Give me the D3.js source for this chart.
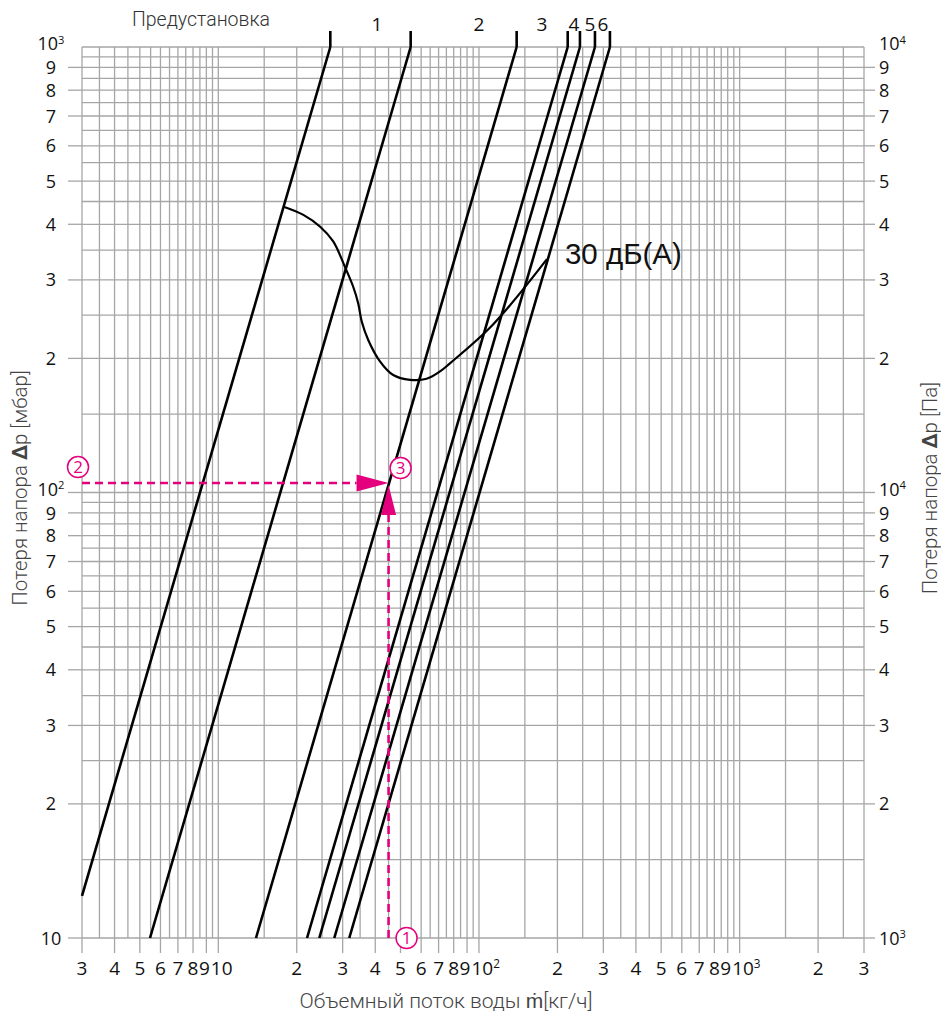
<!DOCTYPE html>
<html><head><meta charset="utf-8">
<script src="https://cdn.jsdelivr.net/npm/d3@7"></script>
<style>body{margin:0;background:#fff} svg{display:block}</style>
</head><body>
<svg id="c" width="941" height="1014"></svg>
<script>
// ---- data ----
const presetFlowAt1000mbar = [26.9, 54.7, 139.5, 219, 244, 278.6, 318]; // kg/h at Δp = 1000 mbar
const presetNames = ["1", "2", "3", "4", "5", "6"];
const presetLabelFlow = [40.6, 100, 174.6, 231.6, 266.7, 299];
const noiseFlow = [17.8, 21.2, 24.6, 27.6, 30.6, 32.9, 34.4, 35.5, 37.6, 41.7, 46.9, 54.4, 63.0, 70.9, 77.4, 113, 182.3];
const noiseDp   = [438, 420, 395, 366, 321, 290, 266, 242, 220, 197, 183.5, 179, 180, 187, 195, 238, 334];
const noiseLabel = "30 дБ(А)";
const exampleFlow = 45;   // kg/h
const exampleDp = 105;    // mbar
const xTickValues = [3,4,5,6,7,8,9,10,20,30,40,50,60,70,80,90,100,200,300,400,500,600,700,800,900,1000,2000,3000];
const xTickLabels = ["3","4","5","6","7","8","9","10","2","3","4","5","6","7","8","9","10^2","2","3","4","5","6","7","8","9","10^3","2","3"];
const yTickValues = [10,20,30,40,50,60,70,80,90,100,200,300,400,500,600,700,800,900,1000];
const yLeftLabels = ["10","2","3","4","5","6","7","8","9","10^2","2","3","4","5","6","7","8","9","10^3"];
const yRightLabels = ["10^3","2","3","4","5","6","7","8","9","10^4","2","3","4","5","6","7","8","9","10^4"];
const titleTop = "Предустановка";
const titleLeft = ["Потеря напора ", "Δ", "p [мбар]"];
const titleRight = ["Потеря напора ", "Δ", "p [Па]"];
const titleBottom = "Объемный поток воды ṁ[кг/ч]";

// ---- layout ----
const L = 82, R = 864, T = 47, B = 938;
const svg = d3.select("#c");
const x = d3.scaleLog().domain([3, 3000]).range([L, R]);
const y = d3.scaleLog().domain([10, 1000]).range([B, T]);
const PINK = "#e4007c";
const GRID = "#a6a6a6";
const tickFont = "'Open Sans', 'DejaVu Sans', sans-serif";
const lightFont = "Roboto, 'Liberation Sans', sans-serif";

// grid values (half-steps within each decade)
const xGrid = [], yGrid = [];
[1, 10, 100, 1000].forEach(d => { for (let k = 2; k <= 20; k++) { const v = k * 0.5 * d; if (v >= 2.999 && v <= 3000.01 && !xGrid.some(g => Math.abs(g - v) < 1e-6)) xGrid.push(v); } });
[10, 100].forEach(d => { for (let k = 2; k <= 20; k++) { const v = k * 0.5 * d; if (v >= 9.999 && v <= 1000.01 && !yGrid.some(g => Math.abs(g - v) < 1e-6)) yGrid.push(v); } });

const g = svg.append("g");
g.selectAll("line.vx").data(xGrid).join("line")
  .attr("x1", d => x(d)).attr("x2", d => x(d)).attr("y1", T).attr("y2", B)
  .attr("stroke", GRID).attr("stroke-width", 1.3);
g.selectAll("line.hy").data(yGrid).join("line")
  .attr("y1", d => y(d)).attr("y2", d => y(d)).attr("x1", L).attr("x2", R)
  .attr("stroke", GRID).attr("stroke-width", 1.3);
// outer tick extensions
g.selectAll("line.tb").data(xTickValues).join("line")
  .attr("x1", d => x(d)).attr("x2", d => x(d)).attr("y1", B).attr("y2", B + 15)
  .attr("stroke", GRID).attr("stroke-width", 1.3);
g.selectAll("line.tl").data(yTickValues.filter(v => v < 1000)).join("line")
  .attr("y1", d => y(d)).attr("y2", d => y(d)).attr("x1", L - 14).attr("x2", L)
  .attr("stroke", GRID).attr("stroke-width", 1.3);
g.selectAll("line.tr").data(yTickValues.filter(v => v < 1000)).join("line")
  .attr("y1", d => y(d)).attr("y2", d => y(d)).attr("x1", R).attr("x2", R + 11)
  .attr("stroke", GRID).attr("stroke-width", 1.3);

// label helper with superscript
function label(sel, str, size) {
  const parts = str.split("^");
  sel.append("tspan").text(parts[0]);
  if (parts[1]) sel.append("tspan").attr("font-size", size * 0.62).attr("dy", -size * 0.36).text(parts[1]);
}
const TS = 19, YS = 18;
xTickValues.forEach((v, i) => {
  const s = xTickLabels[i];
  const isTen = s.startsWith("10");
  const t = svg.append("text")
    .attr("x", isTen ? x(v) - 7.5 : (s === "9" ? x(v) - 2 : x(v)))
    .attr("y", 975).attr("text-anchor", isTen ? "start" : "middle")
    .attr("font-family", tickFont).attr("font-size", TS).attr("fill", "#111");
  label(t, s, TS);
});
// small vertical nudge so the decade labels clear the crowded "9" labels
const yNudge = v => (v === 100 || v === 1000) ? -3.5 : (v === 90 || v === 900 ? 0.5 : 0);
yTickValues.forEach((v, i) => {
  const ty = y(v) + 6.5 + yNudge(v);
  const t = svg.append("text").attr("x", 51).attr("y", ty).attr("text-anchor", "middle")
    .attr("font-family", tickFont).attr("font-size", YS).attr("fill", "#111");
  label(t, yLeftLabels[i], YS);
  const t2 = svg.append("text").attr("x", 879).attr("y", ty).attr("text-anchor", "start")
    .attr("font-family", tickFont).attr("font-size", YS).attr("fill", "#111");
  label(t2, yRightLabels[i], YS);
});

// preset characteristic lines: Δp ∝ m²
const lines = svg.append("g");
presetFlowAt1000mbar.forEach(m1 => {
  const dpLow = Math.max(10, 1000 * Math.pow(3 / m1, 2));
  const mLow = m1 * Math.sqrt(dpLow / 1000);
  lines.append("line")
    .attr("x1", x(mLow)).attr("y1", y(dpLow)).attr("x2", x(m1)).attr("y2", y(1000))
    .attr("stroke", "#000").attr("stroke-width", 2.6);
  lines.append("line")
    .attr("x1", x(m1)).attr("x2", x(m1)).attr("y1", T - 16).attr("y2", T)
    .attr("stroke", "#000").attr("stroke-width", 2.6);
});
presetNames.forEach((n, i) => {
  svg.append("text").attr("x", x(presetLabelFlow[i])).attr("y", 31).attr("text-anchor", "middle")
    .attr("font-family", tickFont).attr("font-size", 19).attr("fill", "#111").text(n);
});
svg.append("text").attr("x", 201).attr("y", 26).attr("text-anchor", "middle")
  .attr("font-family", lightFont).attr("font-weight", 300).attr("font-size", 19.5).attr("fill", "#333").text(titleTop);

// noise curve
const pts = noiseFlow.map((m, i) => [x(m), y(noiseDp[i])]);
svg.append("path").attr("d", d3.line().curve(d3.curveCatmullRom.alpha(0.5))(pts))
  .attr("fill", "none").attr("stroke", "#000").attr("stroke-width", 2.2);
svg.append("text").attr("x", x(noiseFlow[noiseFlow.length - 1]) + 18).attr("y", 264)
  .attr("font-family", "'Liberation Sans', Arial, sans-serif").attr("font-size", 29.5).attr("fill", "#111").text(noiseLabel);

// example (pink)
const ex = x(exampleFlow), ey = y(exampleDp);
const pk = svg.append("g");
pk.append("line").attr("x1", L).attr("x2", ex - 32).attr("y1", ey).attr("y2", ey)
  .attr("stroke", PINK).attr("stroke-width", 2.6).attr("stroke-dasharray", "8,5");
pk.append("line").attr("x1", ex).attr("x2", ex).attr("y1", B).attr("y2", ey + 32)
  .attr("stroke", PINK).attr("stroke-width", 2.6).attr("stroke-dasharray", "8,5");
pk.append("path").attr("d", `M${ex},${ey} L${ex - 32},${ey - 8.5} L${ex - 32},${ey + 8.5} Z`).attr("fill", PINK);
pk.append("path").attr("d", `M${ex},${ey + 2} L${ex - 7.5},${ey + 32} L${ex + 7.5},${ey + 32} Z`).attr("fill", PINK);
const circ = [["1", ex + 18, B], ["2", L - 4, ey - 16], ["3", ex + 12, ey - 15]];
circ.forEach(([t, cx, cy]) => {
  pk.append("circle").attr("cx", cx).attr("cy", cy).attr("r", 10.5).attr("fill", "#fff")
    .attr("stroke", PINK).attr("stroke-width", 1.5);
  pk.append("text").attr("x", cx).attr("y", cy + 6).attr("text-anchor", "middle")
    .attr("font-family", tickFont).attr("font-size", 17).attr("fill", PINK).text(t);
});

// axis titles
function rich(t, parts) {
  t.append("tspan").text(parts[0]);
  t.append("tspan").attr("font-weight", 700).text(parts[1]);
  t.append("tspan").text(parts[2]);
}
const tl = svg.append("text").attr("transform", "translate(27,488) rotate(-90)").attr("text-anchor", "middle")
  .attr("font-family", lightFont).attr("font-weight", 300).attr("font-size", 20.5).attr("fill", "#444");
rich(tl, titleLeft);
const tr = svg.append("text").attr("transform", "translate(937,488) rotate(-90)").attr("text-anchor", "middle")
  .attr("font-family", lightFont).attr("font-weight", 300).attr("font-size", 20.5).attr("fill", "#444");
rich(tr, titleRight);
svg.append("text").attr("x", 446).attr("y", 1008).attr("text-anchor", "middle")
  .attr("font-family", lightFont).attr("font-weight", 300).attr("font-size", 21).attr("fill", "#444").text(titleBottom);
</script>
</body></html>
